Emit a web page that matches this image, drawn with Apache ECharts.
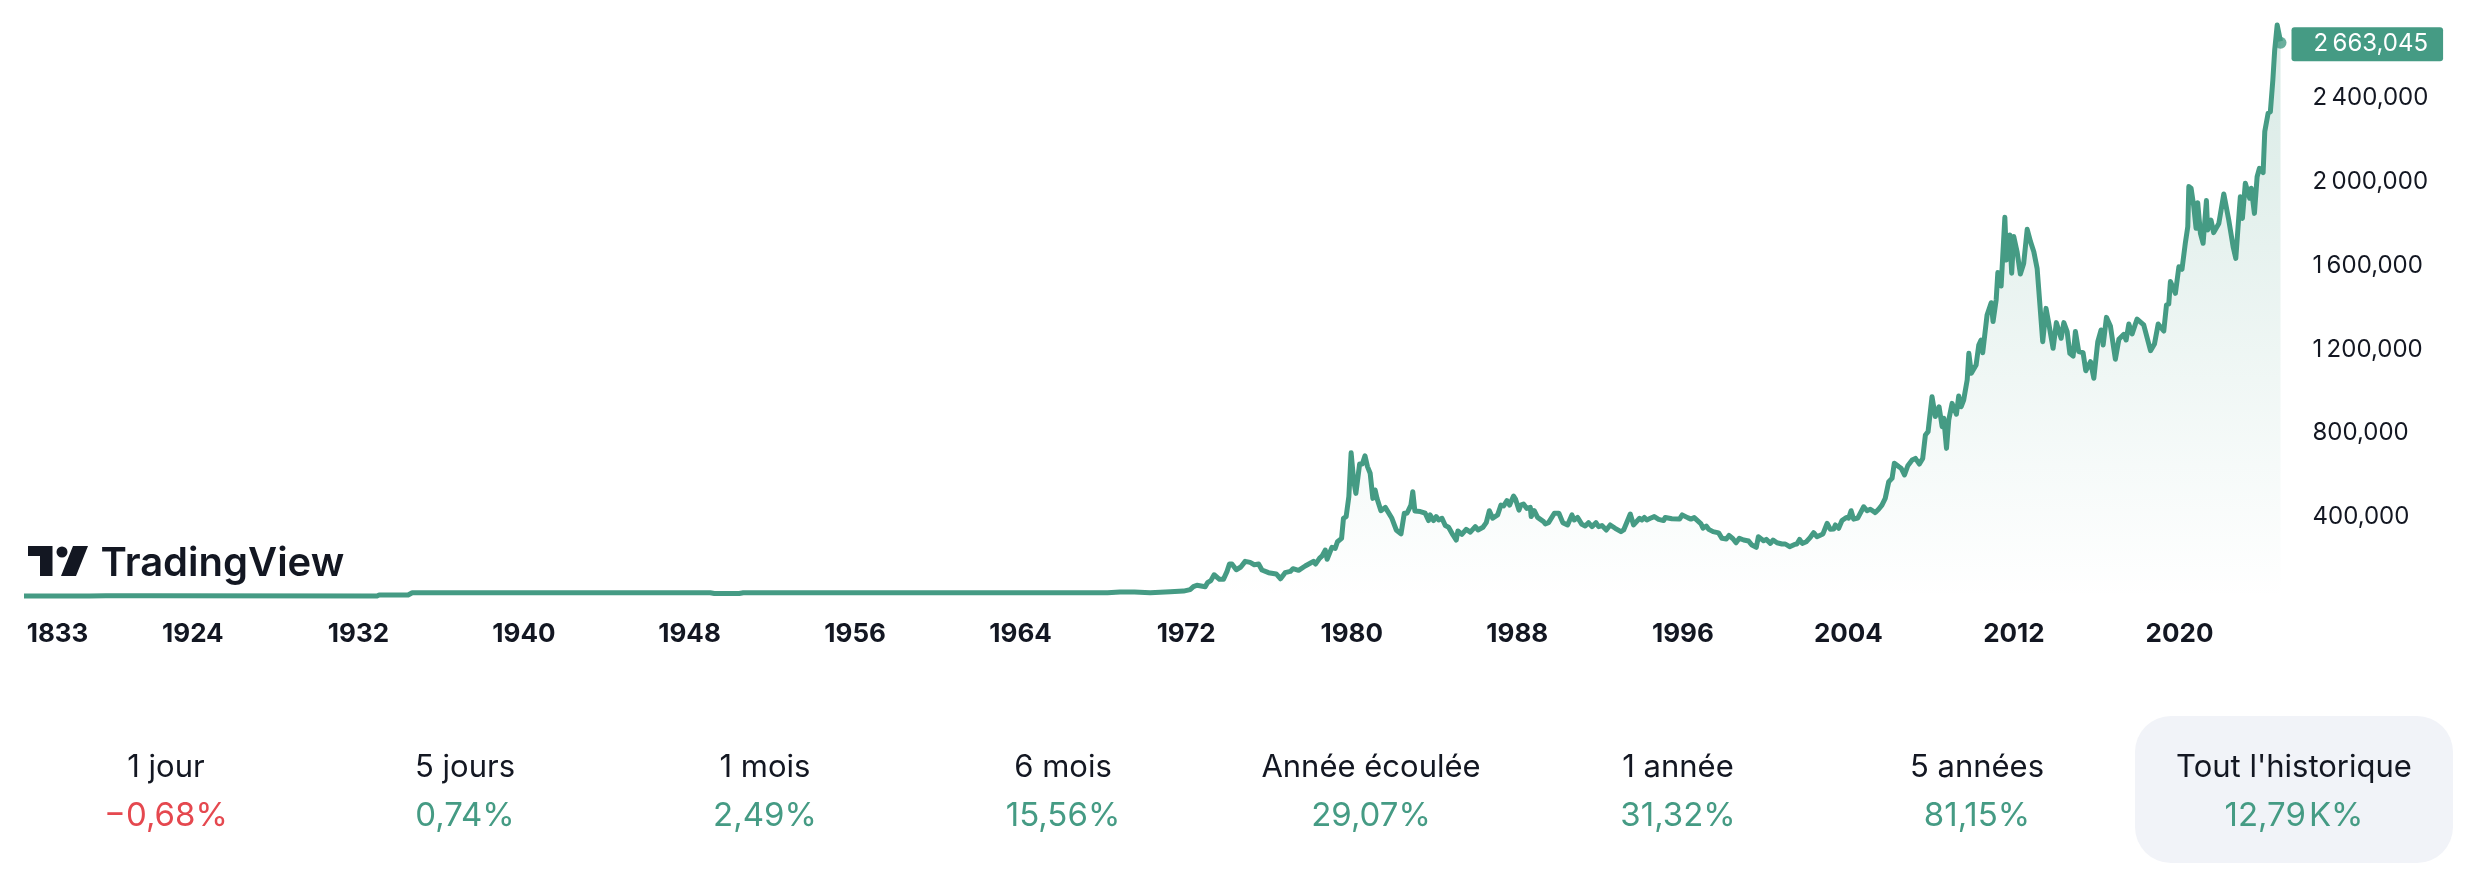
<!DOCTYPE html>
<html>
<head>
<meta charset="UTF-8">
<title>TradingView</title>
<script src="https://cdn.jsdelivr.net/npm/echarts@6/dist/echarts.min.js"></script>
<style>
html,body{margin:0;padding:0;background:#fff;}
#chart{width:2484px;height:874px;}
</style>
</head>
<body>
<div id="chart"></div>
<script>
var years = [1915.84,1919,1919.8,1922,1932.9,1933,1934.4,1934.6,1949,1949.2,1950.4,1950.6,1968.2,1968.8,1969.5,
1970.26,1971.23,1971.87,1972.19,1972.35,1972.52,1972.92,1973.03,1973.19,1973.35,1973.61,1973.8,1973.97,1974.09,1974.21,1974.42,1974.64,1974.85,1975.09,1975.29,1975.5,1975.66,1975.98,1976.35,1976.56,1976.78,1977.03,1977.16,1977.43,1977.75,1977.99,1978.15,1978.25,1978.44,1978.57,1978.72,1978.81,1979.04,1979.2,1979.31,1979.51,1979.6,1979.73,1979.86,1979.97,
1980.09,1980.2,1980.28,1980.38,1980.51,1980.64,1980.76,1980.89,1981.02,1981.13,1981.22,1981.31,1981.41,1981.62,1981.94,1982.15,1982.38,1982.54,1982.67,1982.86,1982.95,1983.05,1983.31,1983.55,1983.71,1983.79,1983.95,1984.08,1984.2,1984.36,1984.52,1984.68,1984.89,1985.05,1985.13,1985.32,1985.53,1985.73,1985.97,1986.1,1986.34,1986.5,1986.65,1986.81,1987.05,1987.21,1987.34,1987.5,1987.63,1987.82,1987.92,1988.08,1988.17,1988.3,1988.46,1988.63,1988.67,1988.82,1988.98,1989.27,1989.35,1989.51,1989.59,1989.79,
1990.01,1990.2,1990.43,1990.64,1990.75,1990.91,1991.12,1991.28,1991.44,1991.61,1991.8,1991.93,1992.09,1992.3,1992.49,1992.73,1993.01,1993.14,1993.33,1993.46,1993.62,1993.91,1994.02,1994.14,1994.26,1994.43,1994.62,1994.83,1995.07,1995.15,1995.47,1995.84,1995.97,1996.23,1996.39,1996.55,1996.88,1996.97,1997.13,1997.25,1997.46,1997.73,1997.89,1998.1,1998.23,1998.42,1998.57,1998.73,1998.94,1999.18,1999.34,1999.55,1999.65,1999.9,
2000.03,2000.23,2000.36,2000.55,2000.79,2000.95,2001.16,2001.4,2001.51,2001.64,2001.77,2001.97,2002.16,2002.32,2002.48,2002.77,2002.97,2003.13,2003.29,2003.37,2003.53,2003.69,2003.9,2004.01,2004.13,2004.25,2004.45,2004.74,2004.9,2005.06,2005.14,2005.3,2005.46,2005.62,2005.78,2005.95,2006.11,2006.22,2006.43,2006.55,2006.71,2006.87,2007.08,2007.24,2007.43,2007.59,2007.72,2007.85,2008.04,2008.2,2008.38,2008.53,2008.61,2008.74,2008.85,2009.01,2009.22,2009.33,2009.45,2009.57,2009.74,2009.82,2009.94,
2010.17,2010.3,2010.41,2010.49,2010.7,2010.9,2010.99,2011.14,2011.22,2011.38,2011.56,2011.64,2011.8,2011.89,2011.99,2012.15,2012.23,2012.31,2012.47,2012.64,2012.8,2012.96,2013.12,2013.39,2013.55,2013.68,2013.89,2014.05,2014.28,2014.41,2014.57,2014.7,2014.86,2014.97,2015.13,2015.34,2015.47,2015.7,2015.86,2016.05,2016.21,2016.31,2016.47,2016.66,2016.9,2017.07,2017.31,2017.42,2017.55,2017.71,2017.95,2018.27,2018.6,2018.79,2018.97,2019.24,2019.37,2019.48,2019.56,2019.8,2019.97,
2020.12,2020.28,2020.4,2020.45,2020.56,2020.69,2020.8,2020.88,2021.01,2021.14,2021.3,2021.36,2021.52,2021.65,2021.9,2022.14,2022.38,2022.59,2022.72,2022.83,2022.94,2023.04,2023.18,2023.39,2023.47,2023.62,2023.75,2023.86,2024.04,2024.12,2024.28,2024.39,2024.51,2024.6,2024.72,2024.88];
var prices = [11500,11500,13000,13000,11500,16000,16000,27000,27000,23500,23500,27000,27000,31000,30000,
27000,32000,35000,42000,56000,63000,56000,75000,85000,113000,91000,91000,128000,164000,164000,137000,150000,177000,172000,161000,164000,136000,123000,117000,94000,123000,129000,142000,134000,155000,168000,177000,164000,191000,203000,231000,187000,244000,239000,271000,287000,383000,391000,486000,696000,
566000,502000,505000,642000,642000,681000,630000,598000,478000,518000,478000,470000,419000,435000,383000,327000,308000,407000,407000,446000,510000,418000,415000,407000,372000,399000,372000,391000,375000,383000,348000,340000,303000,279000,322000,306000,330000,317000,343000,327000,340000,362000,419000,383000,399000,446000,442000,467000,446000,489000,473000,422000,446000,451000,430000,435000,391000,419000,387000,367000,356000,362000,356000,407000,
407000,362000,351000,399000,375000,387000,354000,346000,362000,343000,362000,343000,348000,327000,351000,335000,319000,327000,372000,403000,351000,383000,375000,387000,375000,383000,391000,378000,372000,387000,381000,379000,399000,386000,379000,386000,356000,336000,346000,330000,319000,313000,287000,284000,301000,285000,266000,287000,279000,274000,255000,244000,295000,276000,
282000,263000,279000,266000,260000,260000,247000,258000,260000,282000,263000,271000,292000,314000,295000,308000,359000,330000,332000,351000,335000,372000,387000,383000,419000,379000,384000,438000,419000,426000,422000,410000,426000,446000,478000,558000,574000,646000,630000,622000,590000,634000,661000,669000,642000,669000,781000,797000,964000,869000,916000,821000,861000,717000,853000,932000,880000,967000,916000,948000,1044000,1171000,1076000,
1115000,1211000,1235000,1174000,1354000,1413000,1323000,1426000,1557000,1493000,1821000,1617000,1737000,1554000,1729000,1657000,1665000,1550000,1601000,1764000,1705000,1657000,1577000,1227000,1386000,1315000,1195000,1318000,1243000,1318000,1275000,1171000,1158000,1275000,1179000,1174000,1088000,1131000,1052000,1227000,1283000,1211000,1343000,1302000,1143000,1238000,1262000,1235000,1311000,1264000,1335000,1307000,1184000,1216000,1311000,1278000,1402000,1407000,1514000,1458000,1585000,
1573000,1697000,1777000,1968000,1960000,1872000,1769000,1891000,1745000,1697000,1901000,1761000,1808000,1748000,1792000,1933000,1808000,1681000,1625000,1777000,1920000,1816000,1984000,1912000,1960000,1840000,2015000,2055000,2035000,2231000,2318000,2326000,2477000,2621000,2740000,2663045];

var xTickYears = [1917.46,1924,1932,1940,1948,1956,1964,1972,1980,1988,1996,2004,2012,2020];
var xTickLabels = ['1833','1924','1932','1940','1948','1956','1964','1972','1980','1988','1996','2004','2012','2020'];
var yTicks = [400000,800000,1200000,1600000,2000000,2400000];
var yTickLabels = ['400,000','800,000','1\u2009200,000','1\u2009600,000','2\u2009000,000','2\u2009400,000'];
var lastLabel = '2\u2009663,045';

var periodNames = ['1 jour','5 jours','1 mois','6 mois','Ann\u00e9e \u00e9coul\u00e9e','1 ann\u00e9e','5 ann\u00e9es',"Tout l'historique"];
var periodChanges = ['\u22120,68%','0,74%','2,49%','15,56%','29,07%','31,32%','81,15%','12,79\u200aK%'];
var periodCenters = [166,465,765,1063,1371,1678,1977,2294];

var green = '#459b84';
var red = '#e5484f';
var ink = '#131722';
var font = 'Inter';

var linePoints = years.map(function(y,i){ return [y,prices[i]]; });

// tableau du bas + logo
var extras = [
	{type:'rect',shape:{x:2135,y:716,width:318,height:147,r:36},style:{fill:'#f1f3f8'},z:0},
	{type:'polygon',shape:{points:[[28,546],[52.5,546],[52.5,576],[40,576],[40,556],[28,556]]},style:{fill:ink}},
	{type:'circle',shape:{cx:62,cy:552,r:5.5},style:{fill:ink}},
	{type:'polygon',shape:{points:[[73,546],[88,546],[76,576],[61,576]]},style:{fill:ink}},
	{type:'text',x:100.5,y:564,style:{text:'TradingView',font:'600 40px '+font,fill:ink,textAlign:'left',textVerticalAlign:'middle'}}
];
periodNames.forEach(function(name,i){
	extras.push({type:'text',x:periodCenters[i],y:768,z:2,style:{text:name,font:'400 31px '+font,fill:ink,textAlign:'center',textVerticalAlign:'middle'}});
	extras.push({type:'text',x:periodCenters[i],y:816,z:2,style:{text:periodChanges[i],font:'400 33px '+font,fill:periodChanges[i].charAt(0)=='\u2212'?red:green,textAlign:'center',textVerticalAlign:'middle'}});
});

var chart = echarts.init(document.getElementById('chart'));
chart.setOption({
	animation:false,
	backgroundColor:'#fff',
	graphic:{elements:extras},
	grid:{left:24,top:12.5,width:2256.5,height:585.9},
	xAxis:{
		type:'value',min:years[0],max:years[years.length-1],
		splitLine:{show:false},axisLine:{show:false},axisTick:{show:false},
		axisLabel:{
			customValues:xTickYears,margin:23,fontFamily:font,fontSize:26,fontWeight:700,color:ink,
			formatter:function(v){ return xTickLabels[xTickYears.indexOf(v)]; }
		}
	},
	yAxis:{
		type:'value',position:'right',min:0,max:2800000,
		splitLine:{show:false},axisLine:{show:false},axisTick:{show:false},
		axisLabel:{
			customValues:yTicks,margin:32,align:'left',
			rich:{t:{fontFamily:font,fontSize:24,color:ink,padding:[4,0,0,0]}},
			formatter:function(v){ return '{t|'+yTickLabels[yTicks.indexOf(v)]+'}'; }
		}
	},
	series:[
		{
			type:'line',data:linePoints,showSymbol:false,symbol:'none',silent:true,z:3,
			lineStyle:{color:green,width:5,join:'round'},
			areaStyle:{color:new echarts.graphic.LinearGradient(0,0,0,1,[
				{offset:0,color:'rgba(69,155,132,0.3)'},
				{offset:1,color:'rgba(69,155,132,0)'}
			])},
			endLabel:{
				show:true,distance:11,offset:[0,3],formatter:function(){ return lastLabel; },
				backgroundColor:green,color:'#fff',fontFamily:font,fontSize:24,
				padding:[5,15,5,22],borderRadius:3
			}
		},
		{
			type:'scatter',data:[linePoints[linePoints.length-1]],symbolSize:12,symbolOffset:[0,1.5],clip:false,silent:true,z:4,
			itemStyle:{color:green}
		}
	]
});
</script>
</body>
</html>
